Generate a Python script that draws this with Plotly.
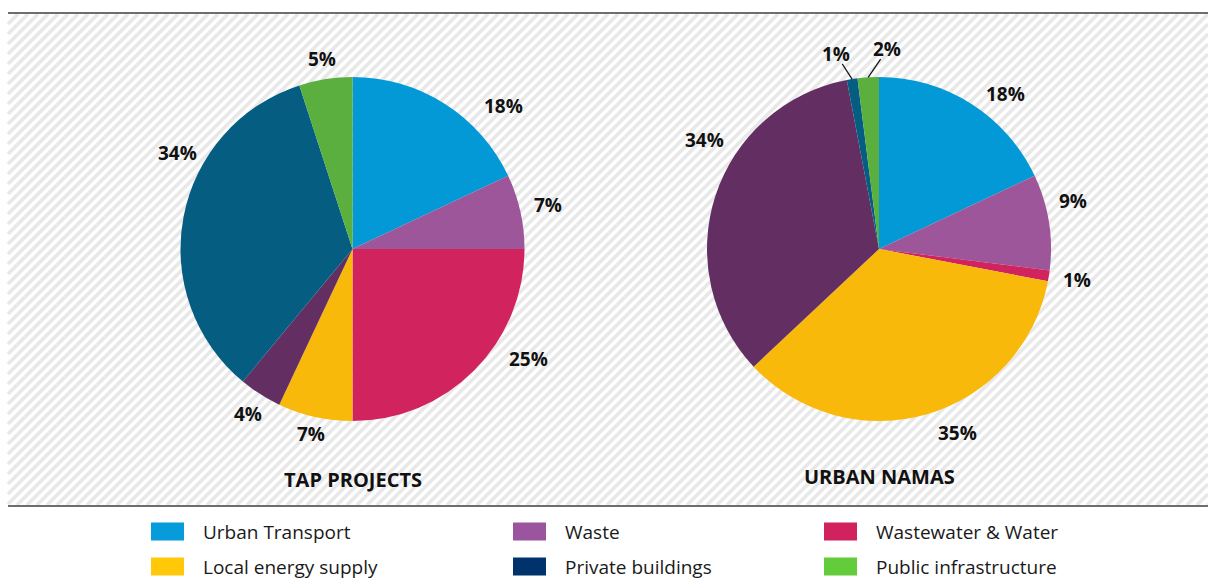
import math
import plotly.graph_objects as go

# ---------------- data ----------------
categories = ["Urban Transport", "Waste", "Wastewater & Water", "Local energy supply",
              "Other", "Private buildings", "Public infrastructure"]
tap_values = [18, 7, 25, 7, 4, 34, 5]
nama_values = [18, 9, 1, 35, 34, 1, 2]
chart_titles = ["TAP PROJECTS", "URBAN NAMAS"]

legend_labels = ["Urban Transport", "Waste", "Wastewater & Water",
                 "Local energy supply", "Private buildings", "Public infrastructure"]

# ---------------- style ----------------
W, H = 1208, 587
slice_colors = ["#0399D6", "#9C5699", "#D1245F", "#F9B90B", "#632F62", "#055E82", "#5AAF3F"]
legend_colors = ["#069BDB", "#9B559E", "#D2215F", "#FFC90A", "#00336B", "#63CC3A"]

pie_centers = [(352.5, 249), (879, 249)]
R = 172
LABEL_DIST = 200
# angular nudges (deg) / distance tweaks for label placement, and labels with leader lines
label_nudge = {(0, 0): 14, (0, 2): -13, (0, 5): 18,
               (1, 0): 7, (1, 1): -5, (1, 3): -7, (1, 4): 14,
               (1, 5): -3.5, (1, 6): 6}
label_dist_adj = {(0, 0): 8, (0, 2): 8, (0, 3): -10, (0, 4): -5, (0, 6): -8, (1, 4): 6}
leader = {(1, 5), (1, 6)}

FONT = "Open Sans"


def px(x):
    return x / W


def py(y):
    return 1 - y / H


fig = go.Figure()
shapes = []
annotations = []

# hatched panel background
X0, X1, Y0, Y1 = 8, 1208, 14, 505
period = 10
c = X0 + Y0
while c <= X1 + Y1:
    xa = max(X0, c - Y1)
    xb = min(X1, c - Y0)
    if xb > xa:
        shapes.append(dict(type="line", xref="paper", yref="paper",
                           x0=px(xa), y0=py(c - xa), x1=px(xb), y1=py(c - xb),
                           line=dict(color="#E8E8E8", width=3.6), layer="below"))
    c += period
for yline in (13, 506):
    shapes.append(dict(type="line", xref="paper", yref="paper",
                       x0=px(X0), x1=px(X1), y0=py(yline), y1=py(yline),
                       line=dict(color="#6E6E6E", width=2)))

# pies
for k, vals in enumerate([tap_values, nama_values]):
    cx, cy = pie_centers[k]
    fig.add_trace(go.Pie(
        labels=categories, values=vals, sort=False, direction="clockwise", rotation=0,
        marker=dict(colors=slice_colors, line=dict(width=0)),
        textinfo="none", hoverinfo="label+percent", showlegend=False,
        domain=dict(x=[px(cx - R), px(cx + R)], y=[py(cy + R), py(cy - R)]),
    ))
    total = sum(vals)
    cum = 0
    for i, v in enumerate(vals):
        mid = (cum + v / 2) / total * 360
        cum += v
        ang = math.radians(mid + label_nudge.get((k, i), 0))
        d = LABEL_DIST + label_dist_adj.get((k, i), 0)
        lx = cx + d * math.sin(ang)
        ly = cy - d * math.cos(ang)
        annotations.append(dict(
            x=px(lx), y=py(ly), xref="paper", yref="paper", text=f"{v}%",
            showarrow=False, xanchor="center", yanchor="middle",
            font=dict(family=FONT, size=19, color="#111111", weight="bold")))
        if (k, i) in leader:
            m = math.radians(mid)
            ex = cx + R * math.sin(m)
            ey = cy - R * math.cos(m)
            dx, dy = ex - lx, ey - ly
            dl = math.hypot(dx, dy)
            sx, sy = lx + dx / dl * 12, ly + dy / dl * 12
            shapes.append(dict(type="line", xref="paper", yref="paper",
                               x0=px(sx), y0=py(sy), x1=px(ex), y1=py(ey),
                               line=dict(color="#111111", width=1.2)))
    annotations.append(dict(
        x=px(cx), y=py(479 if k == 0 else 476), xref="paper", yref="paper",
        text=chart_titles[k], showarrow=False, xanchor="center", yanchor="middle",
        font=dict(family=FONT, size=20, color="#111111", weight="bold")))

# legend
col_x = [151, 513, 824]
row_y = [531.5, 566.5]
for j, (lab, colr) in enumerate(zip(legend_labels, legend_colors)):
    bx = col_x[j % 3]
    by = row_y[j // 3]
    shapes.append(dict(type="rect", xref="paper", yref="paper",
                       x0=px(bx), x1=px(bx + 33), y0=py(by + 9), y1=py(by - 9),
                       fillcolor=colr, line=dict(width=0)))
    annotations.append(dict(
        x=px(bx + 50), y=py(by), xref="paper", yref="paper", text=lab,
        showarrow=False, xanchor="left", yanchor="middle",
        font=dict(family=FONT, size=19, color="#1A1A1A")))

fig.update_layout(
    width=W, height=H, margin=dict(l=0, r=0, t=0, b=0),
    paper_bgcolor="white", plot_bgcolor="white",
    shapes=shapes, annotations=annotations,
)

fig.write_html("out.html", config={"displayModeBar": False},
               post_script="document.body.style.margin='0px';")
